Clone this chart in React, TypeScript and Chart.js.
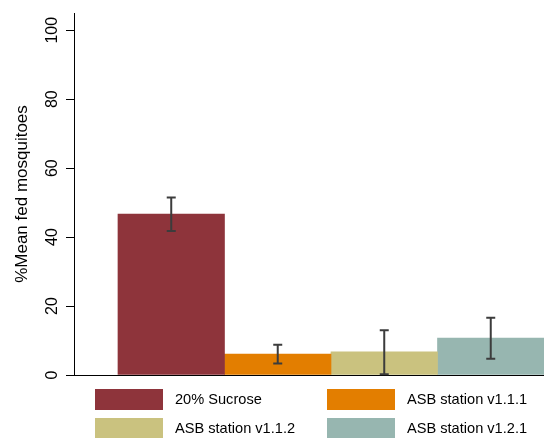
import React, { useEffect, useRef } from "react";
import { Chart, registerables } from "chart.js";

Chart.register(...registerables);

// ---- data ----
const groups = ["20% Sucrose", "ASB station v1.1.1", "ASB station v1.1.2", "ASB station v1.2.1"];
const positions = [1, 2, 3, 4];
const means = [46.7, 6.1, 6.7, 10.7];
const ciLow = [41.8, 3.3, 0.2, 4.7];
const ciHigh = [51.5, 8.8, 13.0, 16.6];
const colors = ["#8E343B", "#E37E00", "#CAC27F", "#97B6B0"];
const yTicks = [0, 20, 40, 60, 80, 100];
const yTitle = "%Mean fed mosquitoes";

const FONT = '"Liberation Sans", Arial, Helvetica, sans-serif';

const errorBarPlugin = {
  id: "errorBars",
  afterDatasetsDraw(chart: any) {
    const { ctx } = chart;
    const xs = chart.scales.x;
    const ys = chart.scales.y;
    ctx.save();
    ctx.strokeStyle = "#3c3c3c";
    ctx.lineWidth = 2;
    for (let i = 0; i < positions.length; i++) {
      const x = xs.getPixelForValue(positions[i]);
      const yl = ys.getPixelForValue(ciLow[i]);
      const yh = ys.getPixelForValue(ciHigh[i]);
      const cap = 4.5;
      ctx.beginPath();
      ctx.moveTo(x, yl);
      ctx.lineTo(x, yh);
      ctx.moveTo(x - cap, yl);
      ctx.lineTo(x + cap, yl);
      ctx.moveTo(x - cap, yh);
      ctx.lineTo(x + cap, yh);
      ctx.stroke();
    }
    ctx.restore();
  },
};

const tickLabelPlugin = {
  id: "rotatedTicks",
  afterDraw(chart: any) {
    const { ctx } = chart;
    const ys = chart.scales.y;
    ctx.save();
    ctx.fillStyle = "#000";
    ctx.font = `16px ${FONT}`;
    ctx.textAlign = "center";
    ctx.textBaseline = "alphabetic";
    for (const v of yTicks) {
      const y = ys.getPixelForValue(v);
      ctx.save();
      ctx.translate(57, y);
      ctx.rotate(-Math.PI / 2);
      ctx.fillText(String(v), 0, 0);
      ctx.restore();
    }
    ctx.restore();
  },
};

const legendPlugin = {
  id: "gridLegend",
  afterDraw(chart: any) {
    const { ctx } = chart;
    const ds = chart.data.datasets;
    const colX = [95, 327];
    const rowY = [389, 418];
    ctx.save();
    ctx.font = `14.6px ${FONT}`;
    ctx.textAlign = "left";
    ctx.textBaseline = "middle";
    ds.forEach((d: any, i: number) => {
      const cx = colX[i % 2];
      const ry = rowY[Math.floor(i / 2)];
      ctx.fillStyle = d.backgroundColor;
      ctx.fillRect(cx, ry, 68, 21);
      ctx.fillStyle = "#000";
      ctx.fillText(d.label, cx + 80, ry + 11);
    });
    ctx.restore();
  },
};

export default function App() {
  const ref = useRef<HTMLCanvasElement | null>(null);

  useEffect(() => {
    if (!ref.current) return;
    const chart = new Chart(ref.current, {
      type: "bar",
      data: {
        datasets: groups.map((g, i) => ({
          label: g,
          data: [{ x: positions[i], y: means[i] }],
          backgroundColor: colors[i],
          borderWidth: 0,
          barPercentage: 1,
          categoryPercentage: 1,
          grouped: false,
        })),
      },
      options: {
        responsive: false,
        animation: false,
        devicePixelRatio: 1,
        layout: { padding: { top: 13, bottom: 63, left: 0, right: 0 } },
        plugins: {
          legend: { display: false },
          tooltip: { enabled: false },
        },
        scales: {
          x: {
            type: "linear",
            offset: false,
            min: 0.087,
            max: 4.5,
            ticks: { display: false, stepSize: 1, includeBounds: false },
            grid: { display: false },
            border: { display: true, color: "#000", width: 1 },
            afterFit: (s: any) => {
              s.height = 0;
            },
          },
          y: {
            min: 0,
            max: 105,
            ticks: { display: false, stepSize: 20, includeBounds: false },
            grid: {
              display: true,
              drawOnChartArea: false,
              drawTicks: true,
              tickLength: 8,
              color: "#000",
              lineWidth: 1,
            },
            border: { display: true, color: "#000", width: 1 },
            title: {
              display: true,
              text: yTitle,
              color: "#000",
              font: { family: FONT, size: 17 },
              padding: { top: 12, bottom: 0 },
            },
            afterFit: (s: any) => {
              s.width = 74;
            },
          },
        },
      },
      plugins: [errorBarPlugin, tickLabelPlugin, legendPlugin],
    } as any);
    return () => chart.destroy();
  }, []);

  return (
    <div style={{ position: "fixed", left: 0, top: 0, width: 544, height: 438, background: "#fff" }}>
      <canvas ref={ref} width={544} height={438} />
    </div>
  );
}
